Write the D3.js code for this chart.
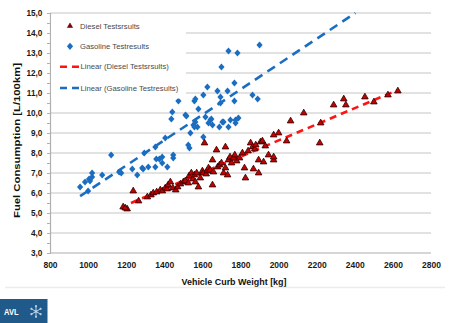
<!DOCTYPE html>
<html><head><meta charset="utf-8">
<script src="https://cdn.jsdelivr.net/npm/d3@7"></script>
<style>body{margin:0;background:#fff}svg{display:block}</style>
</head><body><div id="chart"></div>
<script>
// ---- data ----
const dieselWeight = [1184,1205,1195,1237,1265,1311,1330,1342,1360,1379,1390,1405,1415,1420,1432,1445,1460,1470,1485,1500,1510,1526,1530,1542,1550,1558,1563,1570,1579,1589,1600,1605,1611,1620,1626,1632,1640,1653,1653,1658,1674,1680,1690,1700,1711,1721,1721,1732,1737,1745,1753,1763,1770,1780,1795,1810,1821,1826,1840,1853,1863,1868,1875,1880,1895,1895,1905,1915,1921,1930,1947,1974,1974,1974,2000,2042,2063,2132,2216,2221,2289,2342,2353,2453,2500,2574,2626];
const dieselFuel   = [5.3,5.2,5.25,6.1,5.6,5.8,5.9,6.0,6.05,6.15,6.1,6.25,6.2,6.4,6.55,6.25,6.15,6.3,6.45,6.55,6.6,6.5,6.85,7.0,6.7,6.9,6.55,7.0,6.3,6.75,7.1,7.0,8.5,6.95,7.1,7.25,7.15,6.4,7.65,7.05,8.15,7.3,7.4,7.5,7.0,8.3,7.25,6.9,7.65,7.8,7.5,7.75,7.9,7.6,7.75,8.0,7.25,6.75,8.1,8.5,8.3,7.2,8.2,8.4,7.0,7.65,8.55,8.6,7.55,8.35,7.9,7.65,8.9,7.8,9.0,8.6,9.6,10.0,8.5,9.5,10.4,10.7,10.4,10.8,10.55,10.9,11.1];
const gasolineWeight = [958,984,1000,1005,1010,1021,1021,1074,1121,1163,1174,1232,1258,1284,1289,1295,1316,1353,1353,1358,1374,1389,1389,1405,1416,1437,1442,1447,1447,1474,1511,1516,1526,1532,1537,1553,1558,1558,1563,1563,1574,1579,1605,1605,1616,1626,1632,1642,1647,1653,1679,1689,1695,1695,1700,1705,1711,1732,1737,1737,1747,1768,1768,1774,1774,1784,1789,1863,1890,1900];
const gasolineFuel   = [6.3,6.55,6.1,6.7,6.6,6.8,7.0,6.9,7.9,7.05,7.0,7.2,6.9,7.25,7.2,8.0,7.3,8.3,7.3,7.7,7.7,7.8,7.5,8.75,7.3,9.7,10.05,7.9,7.75,10.6,9.9,9.85,8.4,8.25,9.0,9.4,10.6,9.3,10.7,9.55,9.3,10.2,10.9,8.8,9.8,11.3,9.5,9.65,9.7,9.4,11.1,9.3,10.8,10.5,12.3,9.55,9.55,11.1,13.1,9.3,9.65,11.5,10.6,9.65,9.5,13.0,9.75,10.9,10.7,13.4];
const dieselTrendWeight = [1225, 2620];
const dieselTrendFuel   = [5.5, 11.13];
const gasolineTrendWeight = [958, 2403];
const gasolineTrendFuel   = [5.84, 15.0];
const xTicks = [800,1000,1200,1400,1600,1800,2000,2200,2400,2600,2800];
const yTicks = [3,4,5,6,7,8,9,10,11,12,13,14,15];
const yMinorTicks = [3.5,4.5,5.5,6.5,7.5,8.5,9.5,10.5,11.5,12.5,13.5,14.5];
const legendLabels = ["Diesel Testsrsults","Gasoline Testresults","Linear (Diesel Testsrsults)","Linear (Gasoline Testresults)"];
const xTitle = "Vehicle Curb Weight [kg]";
const yTitle = "Fuel Consumption [L/100km]";

// ---- drawing ----
const W = 450, H = 323;
const FONT = "'Liberation Sans', Arial, sans-serif";
const BLUE = "#1b6dc1", RED = "#ff1414", TRI = "#c40000";
const svg = d3.select("#chart").append("svg").attr("width", W).attr("height", H)
  .style("font-family", FONT);
svg.append("rect").attr("width", W).attr("height", H).attr("fill", "#fff");

const x = d3.scaleLinear().domain([800, 2800]).range([50, 431]);
const y = d3.scaleLinear().domain([3, 15]).range([253, 13]);

// gridlines
svg.append("g").selectAll("line").data(yTicks.slice(1)).join("line")
  .attr("x1", x(800)).attr("x2", x(2800))
  .attr("y1", d => y(d)).attr("y2", d => y(d))
  .attr("stroke", "#d9d9d9").attr("stroke-width", 1.5);

// bottom axis line
svg.append("line").attr("x1", x(800)).attr("x2", x(2800)).attr("y1", y(3)).attr("y2", y(3))
  .attr("stroke", "#c8c8c8").attr("stroke-width", 1.5);

// y axis
const yAxis = svg.append("g").attr("transform", `translate(${x(800)},0)`)
  .call(d3.axisLeft(y).tickValues(yTicks).tickSize(3).tickPadding(4.7)
    .tickFormat(d => d.toFixed(1).replace(".", ",")));
yAxis.select(".domain").attr("stroke", "#b0b0b0").attr("stroke-width", 1.2);
yAxis.selectAll(".tick line").attr("stroke", "#b0b0b0");
yAxis.selectAll("text").attr("font-family", FONT).attr("font-size", 8.2)
  .attr("font-weight", "bold").attr("fill", "#1a1a1a");
const yMinor = svg.append("g").attr("transform", `translate(${x(800)},0)`)
  .call(d3.axisLeft(y).tickValues(yMinorTicks).tickSize(3).tickFormat(""));
yMinor.select(".domain").remove();
yMinor.selectAll(".tick line").attr("stroke", "#b0b0b0");

// x axis labels
const xAxis = svg.append("g").attr("transform", `translate(0,${y(3)})`)
  .call(d3.axisBottom(x).tickValues(xTicks).tickSize(0).tickFormat(d3.format("d")));
xAxis.select(".domain").remove();
xAxis.selectAll("text").attr("y", 14.5).attr("dy", 0).attr("font-family", FONT)
  .attr("font-size", 8.5).attr("font-weight", "bold").attr("fill", "#1a1a1a");

// titles
svg.append("text").attr("x", 234).attr("y", 285.3).attr("text-anchor", "middle")
  .attr("font-size", 8.8).attr("font-weight", "bold").attr("fill", "#111")
  .attr("textLength", 105).attr("lengthAdjust", "spacingAndGlyphs").text(xTitle);
svg.append("text").attr("transform", "translate(19.5,140.5) rotate(-90)").attr("text-anchor", "middle")
  .attr("font-size", 9.8).attr("font-weight", "bold").attr("fill", "#111")
  .attr("textLength", 155).attr("lengthAdjust", "spacingAndGlyphs").text(yTitle);

// trend lines
const line = d3.line().x(d => x(d[0])).y(d => y(d[1]));
svg.append("path").datum(gasolineTrendWeight.map((w, i) => [w, gasolineTrendFuel[i]]))
  .attr("d", line).attr("fill", "none").attr("stroke", BLUE).attr("stroke-width", 2.6)
  .attr("stroke-dasharray", "9,6");
svg.append("path").datum(dieselTrendWeight.map((w, i) => [w, dieselTrendFuel[i]]))
  .attr("d", line).attr("fill", "none").attr("stroke", RED).attr("stroke-width", 2.6)
  .attr("stroke-dasharray", "7,5");

// markers
const diamondType = { draw(ctx, size) { const a = 3.1, b = 3.6; ctx.moveTo(0, -b); ctx.lineTo(a, 0); ctx.lineTo(0, b); ctx.lineTo(-a, 0); ctx.closePath(); } };
const diamond = d3.symbol().type(diamondType);
const tri = d3.symbol().type(d3.symbolTriangle).size(19);

svg.append("g").selectAll("path").data(gasolineWeight.map((w, i) => [w, gasolineFuel[i]])).join("path")
  .attr("transform", d => `translate(${x(d[0])},${y(d[1])})`).attr("d", diamond).attr("fill", BLUE);
svg.append("g").selectAll("path").data(dieselWeight.map((w, i) => [w, dieselFuel[i]])).join("path")
  .attr("transform", d => `translate(${x(d[0])},${y(d[1])})`).attr("d", tri)
  .attr("fill", TRI).attr("stroke", "#2a0000").attr("stroke-width", 0.8);

// legend
const lg = svg.append("g");
lg.append("rect").attr("x", 51).attr("y", 15.5).attr("width", 135).attr("height", 83).attr("fill", "#fff");
const rows = [26, 46.3, 66.7, 88];
lg.append("path").attr("transform", `translate(70,${rows[0]})`).attr("d", d3.symbol().type(d3.symbolTriangle).size(12))
  .attr("fill", "#8b0000").attr("stroke", "#300").attr("stroke-width", 0.5);
lg.append("path").attr("transform", `translate(70,${rows[1]})`).attr("d", diamond).attr("fill", BLUE);
lg.append("line").attr("x1", 60).attr("x2", 80).attr("y1", rows[2]).attr("y2", rows[2])
  .attr("stroke", RED).attr("stroke-width", 2.6).attr("stroke-dasharray", "7,5");
lg.append("line").attr("x1", 60).attr("x2", 80).attr("y1", rows[3]).attr("y2", rows[3])
  .attr("stroke", BLUE).attr("stroke-width", 2.6).attr("stroke-dasharray", "7,5");
lg.selectAll("text.lab").data(legendLabels).join("text").attr("class", "lab")
  .attr("x", (d, i) => i < 2 ? 80 : 80.5).attr("y", (d, i) => rows[i] + 2.7)
  .attr("font-size", 7.7).attr("fill", "#4a4a4a").text(d => d);

// footer separator and logo
svg.append("line").attr("x1", 5).attr("x2", 445).attr("y1", 287.5).attr("y2", 287.5)
  .attr("stroke", "#ececec").attr("stroke-width", 1.3);
const logo = svg.append("g");
logo.append("rect").attr("x", 0).attr("y", 299).attr("width", 47.5).attr("height", 24).attr("fill", "#1f5a8b");
logo.append("text").attr("x", 4).attr("y", 315.2).attr("font-size", 9.6).attr("font-weight", "bold")
  .attr("fill", "#fff").attr("textLength", 14.5).attr("lengthAdjust", "spacingAndGlyphs").text("AVL");
const flake = logo.append("g").attr("transform", "translate(36,311.5)");
d3.range(6).forEach(k => {
  const a = k * Math.PI / 3 + Math.PI / 6;
  flake.append("line").attr("x1", 0).attr("y1", 0).attr("x2", 4.5 * Math.cos(a)).attr("y2", 4.5 * Math.sin(a))
    .attr("stroke", "#b9d3ea").attr("stroke-width", 1);
  flake.append("circle").attr("cx", 5.3 * Math.cos(a)).attr("cy", 5.3 * Math.sin(a)).attr("r", 1.1).attr("fill", "#b9d3ea");
});
flake.append("circle").attr("r", 1.3).attr("fill", "#b9d3ea");
</script>
</body></html>
